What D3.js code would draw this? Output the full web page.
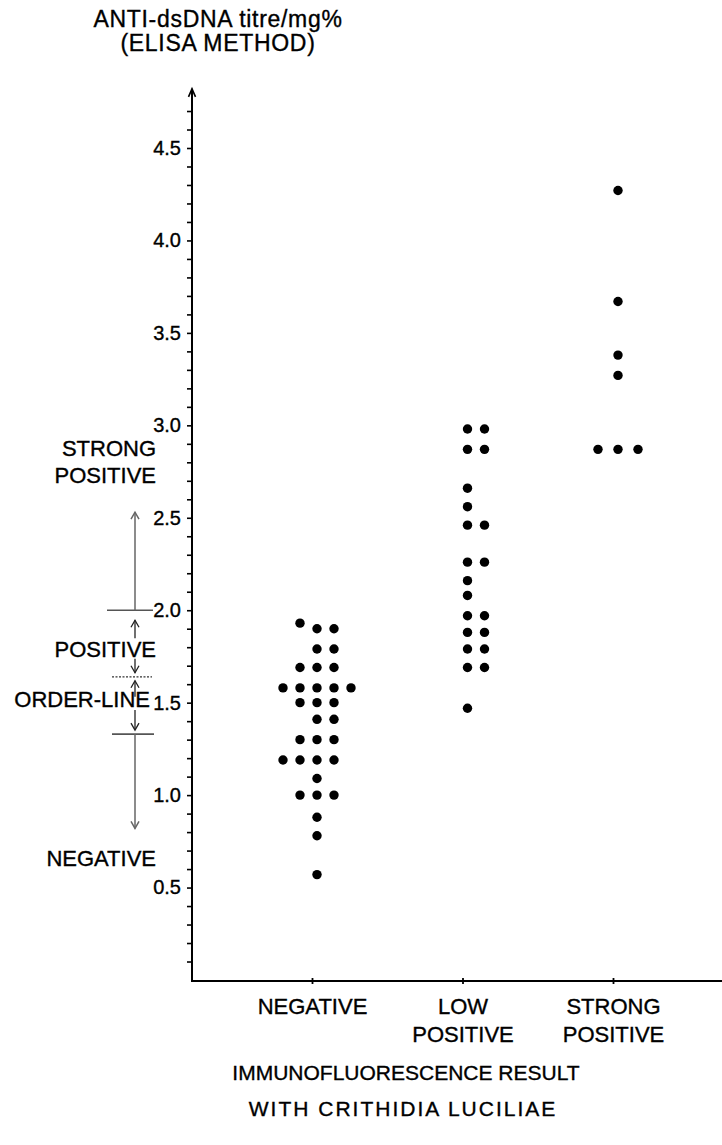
<!DOCTYPE html>
<html><head><meta charset="utf-8">
<script src="https://cdn.jsdelivr.net/npm/d3@7"></script>
<style>
body{margin:0;background:#fff}
text{font-family:"Liberation Sans",Arial,Helvetica,sans-serif;fill:#000;stroke:#000;stroke-width:0.35px}
</style>
</head><body>
<svg id="c" width="722" height="1145"></svg>
<script>
// ---- data ----
const categories = ["NEGATIVE", "LOW POSITIVE", "STRONG POSITIVE"];
const categoryLabelLines = [["NEGATIVE"], ["LOW", "POSITIVE"], ["STRONG", "POSITIVE"]];
const negativeValues = [1.93, 1.9, 1.9, 1.79, 1.79, 1.69, 1.69, 1.69,
  1.58, 1.58, 1.58, 1.58, 1.58, 1.5, 1.5, 1.5, 1.41, 1.41,
  1.3, 1.3, 1.3, 1.19, 1.19, 1.19, 1.19, 1.09, 1.0, 1.0, 1.0, 0.88, 0.78, 0.57];
const lowPositiveValues = [2.98, 2.98, 2.87, 2.87, 2.66, 2.56, 2.46, 2.46,
  2.26, 2.26, 2.16, 2.08, 1.97, 1.97, 1.88, 1.88, 1.79, 1.79, 1.69, 1.69, 1.47];
const strongPositiveValues = [4.27, 3.67, 3.38, 3.27, 2.87, 2.87, 2.87];
const yTickLabels = ["0.5", "1.0", "1.5", "2.0", "2.5", "3.0", "3.5", "4.0", "4.5"];
const yTitleLines = ["ANTI-dsDNA titre/mg%", "(ELISA METHOD)"];
const xTitleLines = ["IMMUNOFLUORESCENCE RESULT", "WITH CRITHIDIA LUCILIAE"];
const bandEdges = [2.0, 1.64, 1.33];          // STRONG/POSITIVE, POSITIVE/ORDER-LINE, ORDER-LINE/NEGATIVE
const bandArrowEnds = [2.53, 0.82];           // long arrow tips
const bandLabels = [["STRONG", "POSITIVE"], ["POSITIVE"], ["ORDER-LINE"], ["NEGATIVE"]];

const groups = [negativeValues, lowPositiveValues, strongPositiveValues];

// ---- scales ----
const svg = d3.select("#c");
const y = d3.scaleLinear().domain([0, 4.5]).range([980, 148]);
const x = d3.scalePoint().domain(categories).range([312, 613]);
const axisX = 192;

// ---- titles ----
svg.append("g").selectAll("text").data(yTitleLines).join("text")
  .attr("x", 218).attr("y", (d, i) => 27 + i * 24)
  .attr("text-anchor", "middle").attr("font-size", 23).attr("letter-spacing", 0.7)
  .text(d => d);

svg.append("g").selectAll("text").data(xTitleLines).join("text")
  .attr("x", (d, i) => i === 0 ? 406 : 403).attr("y", (d, i) => 1080 + i * 36)
  .attr("text-anchor", "middle").attr("font-size", 21)
  .attr("letter-spacing", (d, i) => i === 0 ? 0 : 2)
  .text(d => d);

// ---- y axis ----
const minorTicks = d3.range(1, 48).map(i => +(i / 10).toFixed(1));
const yAxis = d3.axisLeft(y).tickValues(minorTicks).tickSize(5).tickPadding(6)
  .tickFormat(d => yTickLabels.includes(d.toFixed(1)) ? d.toFixed(1) : "");
const gy = svg.append("g").attr("transform", `translate(${axisX},0)`).call(yAxis);
gy.select(".domain").remove();
gy.selectAll(".tick line").attr("stroke", "#000").attr("stroke-width", 1.6);
gy.selectAll(".tick text").attr("font-size", 20).attr("font-family", "Liberation Sans, Arial, sans-serif").attr("fill", "#000");

const yTop = y(4.82);
svg.append("line").attr("x1", axisX).attr("x2", axisX).attr("y1", y(0) + 1).attr("y2", yTop)
  .attr("stroke", "#000").attr("stroke-width", 2);
svg.append("path").attr("d", `M${axisX - 3.5},${yTop + 8} L${axisX},${yTop} L${axisX + 3.5},${yTop + 8}`)
  .attr("fill", "none").attr("stroke", "#000").attr("stroke-width", 1.6);

// ---- x axis ----
const xAxis = d3.axisBottom(x).tickSizeInner(6).tickSizeOuter(0).tickFormat("");
const gx = svg.append("g").attr("transform", `translate(0,${y(0) - 2})`).call(xAxis);
gx.select(".domain").remove();
gx.selectAll(".tick line").attr("stroke", "#000").attr("stroke-width", 1.8);
svg.append("line").attr("x1", axisX - 1).attr("x2", 722).attr("y1", y(0) + 1).attr("y2", y(0) + 1)
  .attr("stroke", "#000").attr("stroke-width", 2);

gx.selectAll(".tick").each(function(d, i) {
  const t = d3.select(this).append("text").attr("text-anchor", "middle")
    .attr("font-size", 22).attr("fill", "#000").attr("y", 36);
  categoryLabelLines[i].forEach((line, j) => {
    t.append("tspan").attr("x", 0).attr("dy", j === 0 ? 0 : 28).text(line);
  });
});

// ---- dots (dot-plot columns built by collision) ----
const colStep = 17, dotShift = 5, order = [0, 1, -1, -2, 2, 3, -3];
const dots = [];
groups.forEach((vals, gi) => {
  const placed = [];
  vals.slice().sort((a, b) => a - b).forEach(v => {
    const py = y(v);
    for (const c of order) {
      if (!placed.some(p => p.col === c && Math.abs(p.py - py) < 10)) {
        placed.push({ v, col: c, py, cat: categories[gi] });
        break;
      }
    }
  });
  dots.push(...placed);
});
svg.append("g").selectAll("circle").data(dots).join("circle")
  .attr("cx", d => x(d.cat) + dotShift + d.col * (d.cat === categories[2] ? 20 : colStep))
  .attr("cy", d => y(d.v))
  .attr("r", 4.7).attr("fill", "#000");

// ---- left-side band annotation ----
const ax = 135;
const ann = svg.append("g").attr("fill", "none");
function arrow(y1, y2, color, w) {
  ann.append("line").attr("x1", ax).attr("x2", ax).attr("y1", y1).attr("y2", y2)
    .attr("stroke", color).attr("stroke-width", w);
  const dir = y2 < y1 ? 1 : -1;
  ann.append("path").attr("d", `M${ax - 4},${y2 + dir * 7} L${ax},${y2} L${ax + 4},${y2 + dir * 7}`)
    .attr("stroke", color).attr("stroke-width", w);
}
// edge lines
ann.append("line").attr("x1", 107).attr("x2", 153).attr("y1", y(bandEdges[0])).attr("y2", y(bandEdges[0]))
  .attr("stroke", "#555").attr("stroke-width", 1.6);
ann.append("line").attr("x1", 112).attr("x2", 152).attr("y1", y(bandEdges[1])).attr("y2", y(bandEdges[1]))
  .attr("stroke", "#333").attr("stroke-width", 1.3).attr("stroke-dasharray", "2,1.5");
ann.append("line").attr("x1", 112).attr("x2", 154).attr("y1", y(bandEdges[2])).attr("y2", y(bandEdges[2]))
  .attr("stroke", "#555").attr("stroke-width", 1.6);
// arrows
arrow(y(bandEdges[0]), y(bandArrowEnds[0]), "#666", 1.5);
arrow(y(bandEdges[0]) + 28, y(bandEdges[0]) + 10, "#222", 1.3);
arrow(y(bandEdges[1]) - 18, y(bandEdges[1]) - 4, "#222", 1.3);
arrow(y(bandEdges[1]) + 20, y(bandEdges[1]) + 4, "#222", 1.3);
arrow(y(bandEdges[2]) - 24, y(bandEdges[2]) - 4, "#222", 1.3);
arrow(y(bandEdges[2]), y(bandArrowEnds[1]), "#666", 1.5);

// labels
const labelRights = [156, 156, 150, 156];
const labelBaselines = [[456, 483], [657], [707], [866]];
bandLabels.forEach((lines, i) => {
  lines.forEach((line, j) => {
    svg.append("text").attr("x", labelRights[i]).attr("y", labelBaselines[i][j])
      .attr("text-anchor", "end").attr("font-size", 22).text(line);
  });
});
</script>
</body></html>
